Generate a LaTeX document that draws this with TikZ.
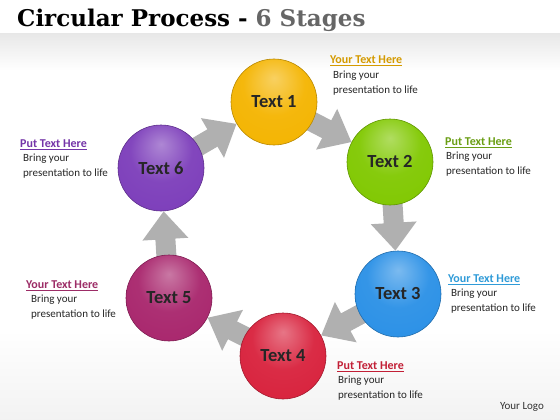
\documentclass[tikz,border=0pt]{standalone}
\usepackage{fontspec}
\setmainfont{Carlito}
\newfontfamily\titlefont{DejaVu Serif}
\usetikzlibrary{arrows.meta}

\pgfdeclarelayer{back}
\pgfsetlayers{back,main}

\makeatletter
\pgfdeclareradialshading[tikz@ball]{glossball}{\pgfpoint{0bp}{14bp}}{%
	color(0bp)=(tikz@ball!62!white);
	color(18bp)=(tikz@ball!95!white);
	color(38bp)=(tikz@ball);
	color(54bp)=(tikz@ball!88!black);
	color(64bp)=(tikz@ball!72!black)}
\makeatother

\definecolor{cyellow}{HTML}{F4B400}
\definecolor{cgreen}{HTML}{80C800}
\definecolor{cblue}{HTML}{2A90E6}
\definecolor{cred}{HTML}{D8213C}
\definecolor{cmagenta}{HTML}{A8256C}
\definecolor{cpurple}{HTML}{7C3DBA}
\definecolor{hyellow}{HTML}{D49A00}
\definecolor{hgreen}{HTML}{6A9E14}
\definecolor{hblue}{HTML}{2F9BD8}
\definecolor{hred}{HTML}{C21F36}
\definecolor{hmagenta}{HTML}{9C2C66}
\definecolor{hpurple}{HTML}{7434A8}

\begin{document}
\begin{tikzpicture}[x=1pt,y=-1pt,
	stage/.style={circle,minimum size=86pt,inner sep=0pt,ball color=#1,shading=glossball,draw=#1!75!black,line width=0.6pt,font=\fontsize{18.5}{19}\selectfont\bfseries,text=black!85},
	flow/.style={line width=20pt,gray!62,-{Triangle[width=44pt,length=28pt]}},
	head/.style={anchor=west,inner sep=0pt,font=\fontsize{12}{14}\selectfont\bfseries},
	body/.style={anchor=north west,align=left,inner sep=0pt,text=black!85,font=\fontsize{11}{14.5}\selectfont}]
		\useasboundingbox (0,0) rectangle (560,420);
		\node[anchor=west,inner sep=0pt,font=\titlefont\bfseries\fontsize{23}{26}\selectfont] (title) at (17,20) {Circular Process - {\color{black!60}6 Stages}};
		\node[stage=cyellow] (s1) at (274,102) {Text 1};
		\node[stage=cgreen] (s2) at (390,162) {Text 2};
		\node[stage=cblue] (s3) at (398,294) {Text 3};
		\node[stage=cred] (s4) at (283,356) {Text 4};
		\node[stage=cmagenta] (s5) at (169,298) {Text 5};
		\node[stage=cpurple] (s6) at (161,168) {Text 6};
		\begin{pgfonlayer}{back}
			\fill[white] (0,0) rectangle (560,420);
			\shade[top color=gray!18,bottom color=white] (0,34) rectangle (560,70);
			\shade[top color=white,bottom color=gray!10] (0,330) rectangle (560,420);
			\draw[flow] (s1.center) -- (s2);
			\draw[flow] (s2.center) -- (s3);
			\draw[flow] (s3.center) -- (s4);
			\draw[flow] (s4.center) -- (s5);
			\draw[flow] (s5.center) -- (s6);
			\draw[flow] (s6.center) -- (s1);
		\end{pgfonlayer}
		\node[head,text=hyellow] (h1) at (330,61) {\underline{Your Text Here}};
		\node[body] (b1) at (333,71) {Bring your\\presentation to life};
		\node[head,text=hgreen] (h2) at (445,143) {\underline{Put Text Here}};
		\node[body] (b2) at (446,152) {Bring your\\presentation to life};
		\node[head,text=hblue] (h3) at (448,280) {\underline{Your Text Here}};
		\node[body] (b3) at (451,289) {Bring your\\presentation to life};
		\node[head,text=hred] (h4) at (337,367) {\underline{Put Text Here}};
		\node[body] (b4) at (338,376) {Bring your\\presentation to life};
		\node[head,text=hmagenta] (h5) at (26,286) {\underline{Your Text Here}};
		\node[body] (b5) at (31,295) {Bring your\\presentation to life};
		\node[head,text=hpurple] (h6) at (20,145) {\underline{Put Text Here}};
		\node[body] (b6) at (23,154) {Bring your\\presentation to life};
		\node[text=black!80,font=\fontsize{11}{12}\selectfont] (logo) at (522,407) {Your Logo};
\end{tikzpicture}
\end{document}
